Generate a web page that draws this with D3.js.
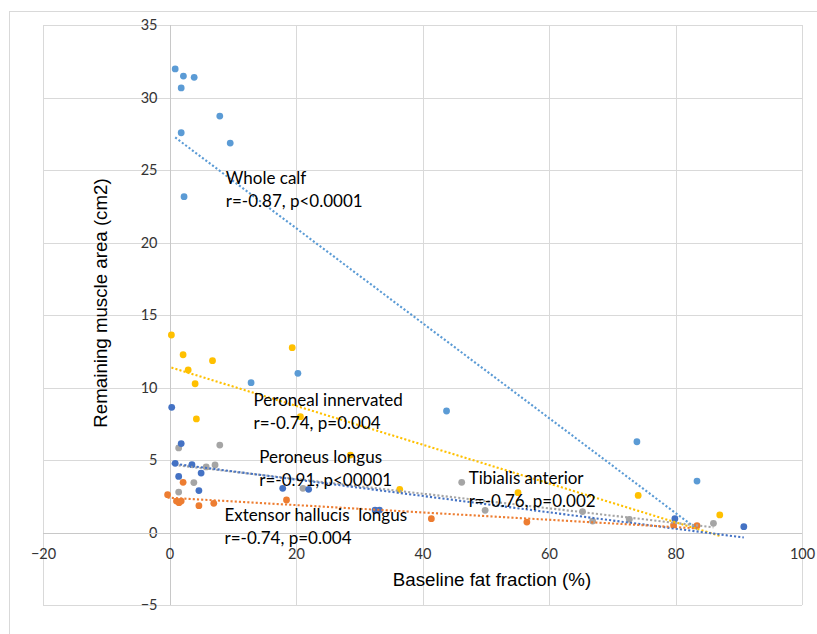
<!DOCTYPE html>
<html>
<head>
<meta charset="utf-8">
<script src="https://cdn.jsdelivr.net/npm/d3@7"></script>
<style>
  html, body { margin: 0; padding: 0; background: #fff; }
  svg { display: block; }
  text.note { white-space: pre; }
</style>
</head>
<body>
<svg id="chart" width="817" height="634"></svg>
<script>
// Baseline fat fraction (%) vs remaining muscle area (cm2), one series per muscle
const seriesNames = ["Whole calf", "Peroneal innervated", "Tibialis anterior", "Peroneus longus", "Extensor hallucis longus"];

const wholeCalfX = [0.9, 2.2, 3.9, 1.85, 7.95, 1.85, 9.6, 2.3, 12.9, 20.3, 43.8, 73.9, 83.4];
const wholeCalfY = [31.97, 31.48, 31.39, 30.66, 28.72, 27.57, 26.86, 23.16, 10.33, 10.98, 8.38, 6.26, 3.55];

const peronealX = [0.3, 2.15, 2.95, 6.8, 4.05, 4.25, 19.4, 20.7, 28.6, 36.4, 55.1, 74.1, 87.0];
const peronealY = [13.62, 12.26, 11.21, 11.85, 10.26, 7.83, 12.75, 7.99, 5.34, 2.98, 2.75, 2.56, 1.21];

const tibialisX = [1.45, 7.95, 5.8, 7.2, 3.85, 1.45, 21.1, 46.2, 49.9, 65.3, 66.9, 72.7, 86.0];
const tibialisY = [5.83, 6.03, 4.52, 4.66, 3.44, 2.79, 3.05, 3.46, 1.53, 1.44, 0.79, 0.91, 0.63];

const longusX = [0.35, 1.85, 0.9, 3.55, 5.0, 1.45, 4.65, 17.9, 22.0, 32.5, 33.2, 79.9, 90.8];
const longusY = [8.63, 6.13, 4.77, 4.68, 4.10, 3.87, 2.89, 3.05, 2.98, 1.55, 1.55, 0.95, 0.40];

const ehlX = [-0.3, 2.15, 1.1, 1.5, 1.85, 4.65, 7.0, 18.5, 41.4, 56.5, 79.7, 83.4];
const ehlY = [2.61, 3.46, 2.17, 2.06, 2.17, 1.85, 2.01, 2.24, 0.95, 0.72, 0.52, 0.47];

const seriesColors = ["#5B9BD5", "#FFC000", "#A5A5A5", "#4472C4", "#ED7D31"];

// Correlation labels: title, statistics, anchor position in data units
const labelTitles = ["Whole calf", "Peroneal innervated", "Peroneus longus", "Tibialis anterior", "Extensor hallucis  longus"];
const labelStats = ["r=-0.87, p<0.0001", "r=-0.74, p=0.004", "r=-0.91, p<00001", "r=-0.76, p=0.002", "r=-0.74, p=0.004"];
const labelX = [8.9, 13.3, 14.2, 47.3, 8.7];
const labelY = [24.06, 8.72, 4.79, 3.35, 0.81];

const xTicks = [-20, 0, 20, 40, 60, 80, 100];
const yTicks = [-5, 0, 5, 10, 15, 20, 25, 30, 35];

const series = [
  { x: wholeCalfX, y: wholeCalfY },
  { x: peronealX, y: peronealY },
  { x: tibialisX, y: tibialisY },
  { x: longusX, y: longusY },
  { x: ehlX, y: ehlY }
].map((s, i) => ({
  name: seriesNames[i],
  color: seriesColors[i],
  points: s.x.map((v, j) => ({ x: v, y: s.y[j] }))
}));

const svg = d3.select("#chart");
const W = 817, H = 634;

const x = d3.scaleLinear().domain([-20, 100]).range([43, 802]);
const y = d3.scaleLinear().domain([-5, 35]).range([605, 25]);

svg.append("rect").attr("width", W).attr("height", H).attr("fill", "#fff");

// chart frame
svg.append("rect")
  .attr("x", 9.5).attr("y", 11.5)
  .attr("width", W + 10).attr("height", H + 10)
  .attr("fill", "none").attr("stroke", "#D9D9D9").attr("stroke-width", 1);

// gridlines
const grid = svg.append("g").attr("stroke", "#D9D9D9").attr("stroke-width", 1);
grid.selectAll("line.v").data(xTicks).join("line")
  .attr("x1", d => Math.round(x(d)) + 0.5).attr("x2", d => Math.round(x(d)) + 0.5)
  .attr("y1", y(35)).attr("y2", y(-5));
grid.selectAll("line.h").data(yTicks).join("line")
  .attr("y1", d => Math.round(y(d)) + 0.5).attr("y2", d => Math.round(y(d)) + 0.5)
  .attr("x1", x(-20)).attr("x2", x(100));

// axes crossing at zero
const tickFont = "Lato, 'Open Sans', sans-serif";
const yAxis = svg.append("g")
  .attr("transform", `translate(${Math.round(x(0)) + 0.5},0)`)
  .call(d3.axisLeft(y).tickValues(yTicks).tickSize(0).tickPadding(13).tickFormat(d3.format("d")));
const xAxis = svg.append("g")
  .attr("transform", `translate(0,${Math.round(y(0)) + 0.5})`)
  .call(d3.axisBottom(x).tickValues(xTicks).tickSize(0).tickPadding(15).tickFormat(d3.format("d")));
[xAxis, yAxis].forEach(a => {
  a.select(".domain").attr("stroke", "#C8C8C8");
  a.selectAll("text").attr("fill", "#333").style("font-family", tickFont).style("font-size", "14.5px");
});
yAxis.select(".domain").attr("d", `M0,${y(35)}V${y(-5)}`);
xAxis.select(".domain").attr("d", `M${x(-20)},0H${x(100)}`);

// least-squares trendline over each series' x range
function fit(points) {
  const mx = d3.mean(points, p => p.x), my = d3.mean(points, p => p.y);
  const sxy = d3.sum(points, p => (p.x - mx) * (p.y - my));
  const sxx = d3.sum(points, p => (p.x - mx) * (p.x - mx));
  const b = sxy / sxx, a = my - b * mx;
  const [x0, x1] = d3.extent(points, p => p.x);
  return [{ x: x0, y: a + b * x0 }, { x: x1, y: a + b * x1 }];
}

const line = d3.line().x(d => x(d.x)).y(d => y(d.y));

series.forEach(s => {
  svg.append("g").selectAll("circle").data(s.points).join("circle")
    .attr("cx", d => x(d.x)).attr("cy", d => y(d.y)).attr("r", 3.4)
    .attr("fill", s.color);
});

series.forEach(s => {
  svg.append("path").datum(fit(s.points))
    .attr("d", line)
    .attr("fill", "none").attr("stroke", s.color)
    .attr("stroke-width", 2.1).attr("stroke-dasharray", "2.1,2.1");
});

// correlation labels
const labelFont = "Lato, 'Open Sans', sans-serif";
const labels = svg.append("g")
  .style("font-family", labelFont).style("font-size", "17px").attr("fill", "#000");
labelTitles.forEach((t, i) => {
  const tx = x(labelX[i]), ty = y(labelY[i]);
  labels.append("text").attr("class", "note").attr("xml:space", "preserve")
    .attr("x", tx).attr("y", ty).text(t);
  labels.append("text").attr("class", "note")
    .attr("x", tx).attr("y", ty + 23).text(labelStats[i]);
});

// axis titles
const titleFont = "'Liberation Sans', Arial, sans-serif";
svg.append("text")
  .attr("x", 492).attr("y", 586)
  .attr("text-anchor", "middle")
  .style("font-family", titleFont).style("font-size", "18.7px").attr("fill", "#000")
  .text("Baseline fat fraction (%)");
svg.append("text")
  .attr("transform", "translate(107,303) rotate(-90)")
  .attr("text-anchor", "middle")
  .style("font-family", titleFont).style("font-size", "18.7px").attr("fill", "#000")
  .text("Remaining muscle area (cm2)");
</script>
</body>
</html>
